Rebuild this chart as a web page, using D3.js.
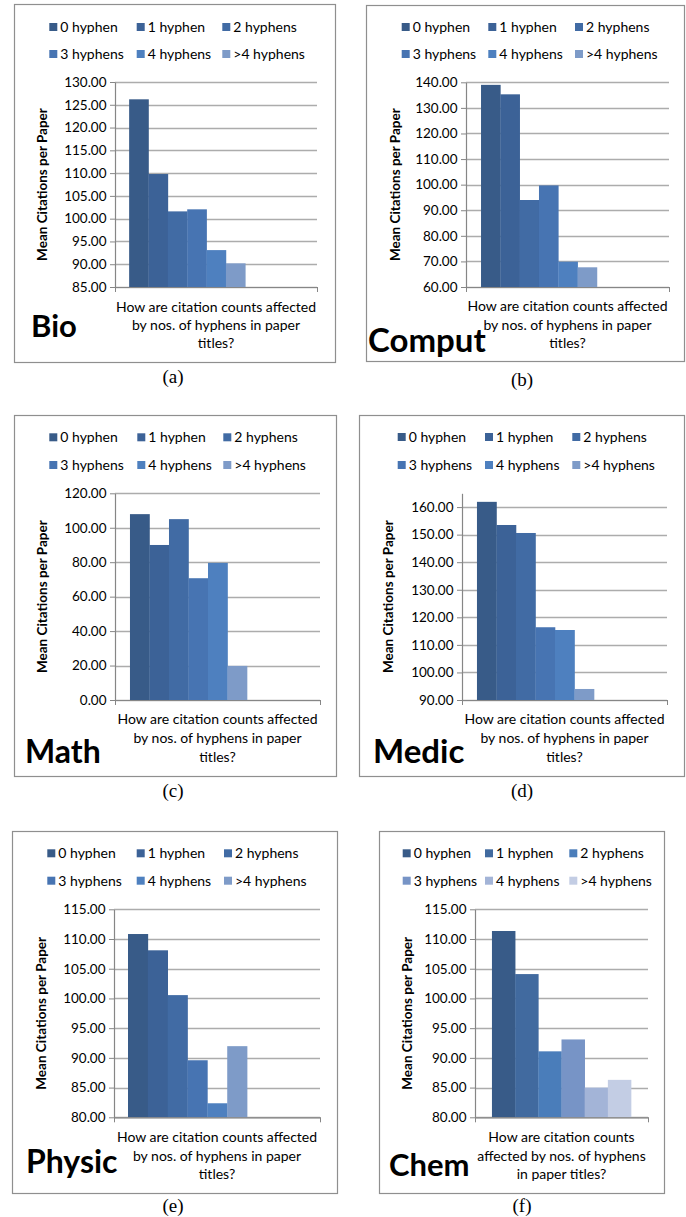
<!DOCTYPE html>
<html>
<head>
<meta charset="utf-8">
<script src="https://cdn.jsdelivr.net/npm/d3@7/dist/d3.min.js"></script>
<style>
  html, body { margin: 0; padding: 0; background: #fff; }
  svg { display: block; }
  text { font-family: Lato, "Open Sans", sans-serif; fill: #000; }
</style>
</head>
<body>
<svg id="chart" width="686" height="1217"></svg>
<script>
// ---------------- DATA ----------------
const seriesNames = ["0 hyphen", "1 hyphen", "2 hyphens", "3 hyphens", "4 hyphens", ">4 hyphens"];
const fieldNames = ["Bio", "Comput", "Math", "Medic", "Physic", "Chem"];
const captions = ["(a)", "(b)", "(c)", "(d)", "(e)", "(f)"];

const bioValues    = [126.2, 109.8, 101.6, 102.05, 93.1, 90.2];
const computValues = [139.0, 135.3, 94.0, 99.7, 69.9, 67.7];
const mathValues   = [107.9, 90.0, 105.0, 70.7, 79.6, 19.8];
const medicValues  = [161.9, 153.5, 150.6, 116.4, 115.4, 94.0];
const physicValues = [110.84, 108.1, 100.56, 89.6, 82.36, 91.97];
const chemValues   = [111.35, 104.1, 91.1, 93.1, 85.0, 86.3];

const bioTicks    = [85, 90, 95, 100, 105, 110, 115, 120, 125, 130];
const computTicks = [60, 70, 80, 90, 100, 110, 120, 130, 140];
const mathTicks   = [0, 20, 40, 60, 80, 100, 120];
const medicTicks  = [90, 100, 110, 120, 130, 140, 150, 160];
const physicTicks = [80, 85, 90, 95, 100, 105, 110, 115];
const chemTicks   = [80, 85, 90, 95, 100, 105, 110, 115];

const bioDomain    = [85, 130];
const computDomain = [60, 140];
const mathDomain   = [0, 120];
const medicDomain  = [90, 165];
const physicDomain = [80, 115];
const chemDomain   = [80, 115];

const yAxisTitle = "Mean Citations per Paper";
const xTitleLines = ["How are citation counts affected", "by nos. of hyphens in paper", "titles?"];
const xTitleLinesChem = ["How are citation counts", "affected by nos. of hyphens", "in paper titles?"];

// ---------------- STYLE / LAYOUT ----------------
const blueShades = ["#385B88", "#3C6297", "#416BA4", "#4774B2", "#4E80BF", "#7E9BC8"];
const chemShades = ["#385B88", "#416A9F", "#4A7DBA", "#7794C6", "#A3B4D7", "#C3CDE4"];

const panels = [
  { label: fieldNames[0], caption: captions[0], values: bioValues, ticks: bioTicks, domain: bioDomain,
    colors: blueShades, xTitle: xTitleLines,
    box: [14, 4, 335, 362], plot: [115, 82, 317, 287], barFrac: [0.07, 0.645],
    legendY: [27, 54], legendX: [49.3, 136.7, 222.3], titleY: [307, 325, 343], yTitleX: 42,
    labelPos: [31, 337], labelSize: 31, captionPos: [173, 383] },
  { label: fieldNames[1], caption: captions[1], values: computValues, ticks: computTicks, domain: computDomain,
    colors: blueShades, xTitle: xTitleLines,
    box: [366, 5, 684, 361], plot: [466, 82.3, 669, 287], barFrac: [0.074, 0.645],
    legendY: [27, 54], legendX: [401.7, 488.3, 575], titleY: [306, 325, 343], yTitleX: 395,
    labelPos: [368, 352], labelSize: 33, captionPos: [522, 386] },
  { label: fieldNames[2], caption: captions[2], values: mathValues, ticks: mathTicks, domain: mathDomain,
    colors: blueShades, xTitle: xTitleLines,
    box: [14, 415, 336, 776], plot: [115, 493.3, 320, 700], barFrac: [0.073, 0.644],
    legendY: [437.3, 465], legendX: [49.3, 137.3, 223.3], titleY: [719, 738, 757], yTitleX: 42,
    labelPos: [25, 763], labelSize: 32, captionPos: [173, 797] },
  { label: fieldNames[3], caption: captions[3], values: medicValues, ticks: medicTicks, domain: medicDomain,
    colors: blueShades, xTitle: xTitleLines,
    box: [359, 415, 684, 776], plot: [462, 493.3, 667, 700], barFrac: [0.073, 0.644],
    legendY: [437, 465], legendX: [397.7, 485, 572.3], titleY: [719, 738, 757], yTitleX: 388,
    labelPos: [373, 763], labelSize: 33, captionPos: [522, 797] },
  { label: fieldNames[4], caption: captions[4], values: physicValues, ticks: physicTicks, domain: physicDomain,
    colors: blueShades, xTitle: xTitleLines,
    box: [12, 831, 337, 1193], plot: [114, 909.3, 320, 1117.3], barFrac: [0.068, 0.646],
    legendY: [853.3, 880.7], legendX: [47.3, 136.7, 224], titleY: [1137, 1156, 1174], yTitleX: 41,
    labelPos: [26, 1173], labelSize: 32, captionPos: [173, 1212] },
  { label: fieldNames[5], caption: captions[5], values: chemValues, ticks: chemTicks, domain: chemDomain,
    colors: chemShades, xTitle: xTitleLinesChem,
    box: [379, 831, 664, 1193], plot: [475, 909.3, 648, 1117.3], barFrac: [0.098, 0.902],
    legendY: [853.3, 880.7], legendX: [402.7, 485, 569.3], titleY: [1137, 1156, 1174], yTitleX: 407,
    labelPos: [389, 1176], labelSize: 31, captionPos: [522, 1212] }
];

const svg = d3.select("#chart");
svg.append("rect").attr("width", 686).attr("height", 1217).attr("fill", "#fff");

const fmt = d3.format(".2f");

panels.forEach(p => {
  const g = svg.append("g");
  const [bx0, by0, bx1, by1] = p.box;
  const [px0, py0, px1, py1] = p.plot;
  const pw = px1 - px0;

  // chart border
  g.append("rect")
    .attr("x", bx0 + 0.5).attr("y", by0 + 0.5)
    .attr("width", bx1 - bx0).attr("height", by1 - by0)
    .attr("fill", "#fff").attr("stroke", "#8f8f8f").attr("stroke-width", 1.2);

  const y = d3.scaleLinear().domain(p.domain).range([py1, py0]);
  const x = d3.scaleBand().domain(seriesNames)
    .range([px0 + p.barFrac[0] * pw, px0 + p.barFrac[1] * pw]).padding(0);
  const xEdge = d3.scaleLinear().domain([0, 1]).range([px0, px1]);

  // gridlines
  g.append("g").selectAll("line").data(p.ticks).join("line")
    .attr("x1", px0).attr("x2", px1)
    .attr("y1", d => Math.round(y(d)) + 0.5).attr("y2", d => Math.round(y(d)) + 0.5)
    .attr("stroke", "#acacac").attr("stroke-width", 1.7);

  // bars
  g.append("g").selectAll("rect").data(p.values).join("rect")
    .attr("x", (d, i) => x(seriesNames[i]))
    .attr("width", x.bandwidth() + 0.3)
    .attr("y", d => y(d))
    .attr("height", d => y(p.domain[0]) - y(d))
    .attr("fill", (d, i) => p.colors[i]);

  // y axis
  const yAxis = g.append("g")
    .attr("transform", `translate(${px0},0)`)
    .call(d3.axisLeft(y).tickValues(p.ticks).tickFormat(fmt).tickSize(5).tickSizeOuter(0).tickPadding(3.5));
  yAxis.select(".domain").attr("stroke", "#868686").attr("stroke-width", 1.2);
  yAxis.selectAll(".tick line").attr("stroke", "#868686");
  yAxis.selectAll(".tick text").attr("font-size", 13.5).attr("font-family", "Lato, sans-serif").attr("fill", "#000");

  // x axis
  const xAxis = g.append("g")
    .attr("transform", `translate(0,${py1})`)
    .call(d3.axisBottom(xEdge).tickValues([0, 1]).tickFormat("").tickSize(5).tickSizeOuter(0));
  xAxis.select(".domain").attr("stroke", "#868686").attr("stroke-width", 1.2);
  xAxis.selectAll(".tick line").attr("stroke", "#868686");

  // legend
  const leg = g.append("g").selectAll("g").data(seriesNames).join("g")
    .attr("transform", (d, i) => `translate(${p.legendX[i % 3]},${p.legendY[Math.floor(i / 3)]})`);
  leg.append("rect").attr("x", 0).attr("y", -4).attr("width", 8).attr("height", 8)
    .attr("fill", (d, i) => p.colors[i]);
  leg.append("text").attr("x", 11).attr("y", 0).attr("dy", "0.35em")
    .attr("font-size", 14).text(d => d);

  // y title
  g.append("text")
    .attr("transform", `translate(${p.yTitleX},${(py0 + py1) / 2}) rotate(-90)`)
    .attr("text-anchor", "middle").attr("dy", "0.35em")
    .attr("font-size", 13.5).attr("font-weight", 700).text(yAxisTitle);

  // x title
  g.append("g").selectAll("text").data(p.xTitle).join("text")
    .attr("x", (px0 + px1) / 2).attr("y", (d, i) => p.titleY[i]).attr("dy", "0.35em")
    .attr("text-anchor", "middle").attr("font-size", 14).text(d => d);

  // field label
  g.append("text").attr("x", p.labelPos[0]).attr("y", p.labelPos[1])
    .attr("font-size", p.labelSize).attr("font-weight", 700).text(p.label);

  // caption
  g.append("text").attr("x", p.captionPos[0]).attr("y", p.captionPos[1])
    .attr("text-anchor", "middle").attr("font-size", 19)
    .style("font-family", "'Liberation Serif', 'Times New Roman', serif").text(p.caption);
});
</script>
</body>
</html>
